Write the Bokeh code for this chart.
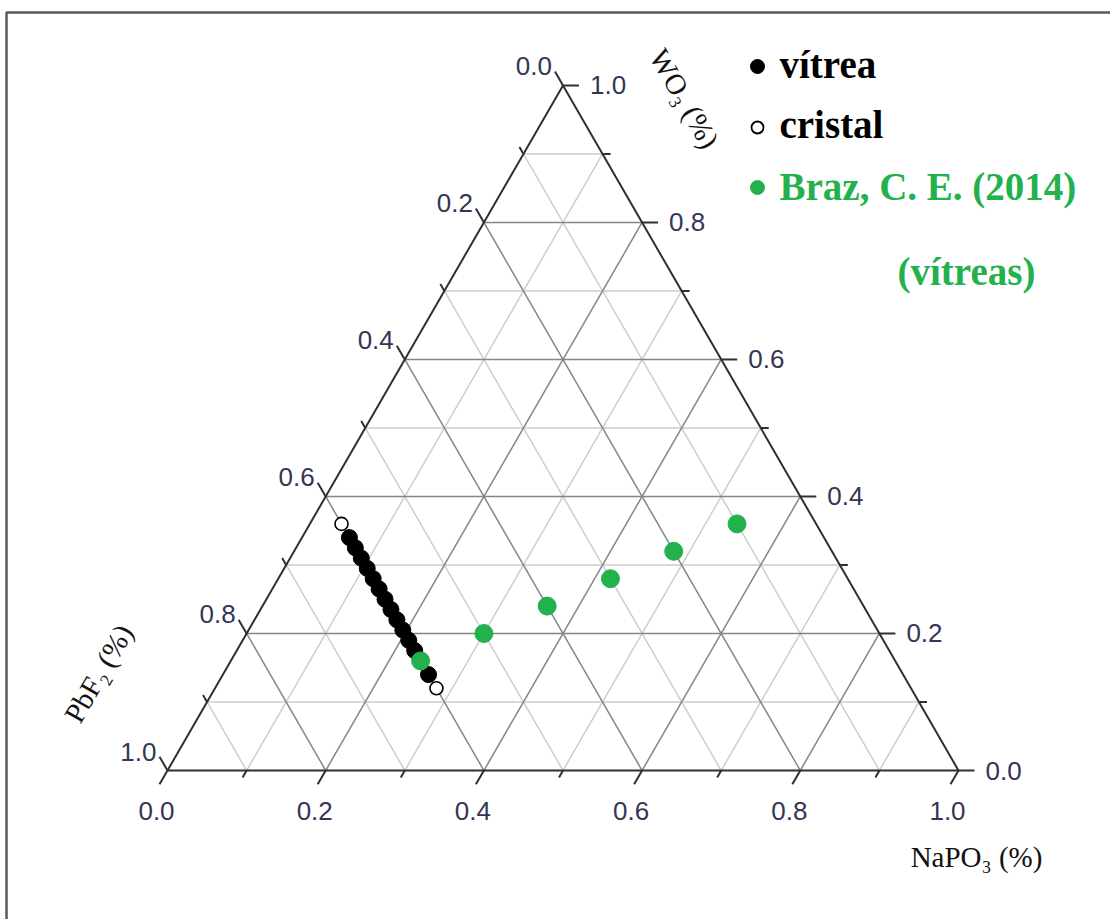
import math
from bokeh.plotting import figure
from bokeh.models import Range1d
from bokeh.core.properties import value
from bokeh.embed import file_html
from bokeh.resources import INLINE

# ---- composition data (mole fractions) ----
vitrea_pbf2 = [0.60] * 14
vitrea_napo3 = [0.060, 0.075, 0.090, 0.105, 0.120, 0.135, 0.150,
                0.165, 0.180, 0.195, 0.210, 0.225, 0.240, 0.260]
vitrea_wo3 = [0.340, 0.325, 0.310, 0.295, 0.280, 0.265, 0.250,
              0.235, 0.220, 0.205, 0.190, 0.175, 0.160, 0.140]

cristal_pbf2 = [0.60, 0.60]
cristal_napo3 = [0.04, 0.28]
cristal_wo3 = [0.36, 0.12]

braz_pbf2 = [0.60, 0.50, 0.40, 0.30, 0.20, 0.10]
braz_napo3 = [0.24, 0.30, 0.36, 0.42, 0.48, 0.54]
braz_wo3 = [0.16, 0.20, 0.24, 0.28, 0.32, 0.36]

tick_values = [0.0, 0.2, 0.4, 0.6, 0.8, 1.0]
tick_labels = ["0.0", "0.2", "0.4", "0.6", "0.8", "1.0"]
minor_values = [0.1, 0.3, 0.5, 0.7, 0.9]

legend_labels = ["vítrea", "cristal", "Braz, C. E. (2014)"]
legend_note = "(vítreas)"

# ---- page geometry ----
W, H = 1110, 919
S = 791.0          # pixels per unit triangle side
X0, Y0 = 167, 770  # pixel position of the PbF2 corner
H3 = math.sqrt(3) / 2


def px(d):
    return d / S


def tern(a, b, c):
    """(PbF2, NaPO3, WO3) -> cartesian."""
    xs, ys = [], []
    for ai, bi, ci in zip(a, b, c):
        t = ai + bi + ci
        bi, ci = bi / t, ci / t
        xs.append(bi + ci / 2)
        ys.append(ci * H3)
    return xs, ys


def sx(pix_x):
    return (pix_x - X0) / S


def sy(pix_y):
    return (Y0 - pix_y) / S


p = figure(width=W, height=H, output_backend="svg", toolbar_location=None,
           x_range=Range1d(-X0 / S, (W - X0) / S),
           y_range=Range1d(-(H - Y0) / S, Y0 / S),
           x_axis_type=None, y_axis_type=None, min_border=0)
p.grid.visible = False
p.outline_line_color = None
p.background_fill_color = "white"
p.border_fill_color = "white"

# outer frame
p.line([sx(6), sx(6), sx(1120)], [sy(930), sy(12), sy(12)],
       line_color="#5a5a5a", line_width=2.5)

# ---- grid lines ----
def grid_lines(vals):
    x0, y0, x1, y1 = [], [], [], []
    for v in vals:
        # constant WO3 (horizontal)
        x0.append(v / 2); y0.append(v * H3); x1.append(1 - v / 2); y1.append(v * H3)
        # constant PbF2 (parallel to right edge)
        x0.append(1 - v); y0.append(0); x1.append((1 - v) / 2); y1.append((1 - v) * H3)
        # constant NaPO3 (parallel to left edge)
        x0.append(v); y0.append(0); x1.append(v + (1 - v) / 2); y1.append((1 - v) * H3)
    return x0, y0, x1, y1


mx0, my0, mx1, my1 = grid_lines(minor_values)
p.segment(mx0, my0, mx1, my1, line_color="#cdcdcd", line_width=1.5)
Mx0, My0, Mx1, My1 = grid_lines(tick_values[1:-1])
p.segment(Mx0, My0, Mx1, My1, line_color="#858585", line_width=1.5)

# triangle edges
p.line([0, 1, 0.5, 0], [0, 0, H3, 0], line_color="#303030", line_width=2)

# ---- ticks ----
def ticks(vals, length):
    x0, y0, x1, y1 = [], [], [], []
    L = px(length)
    for v in vals:
        # bottom (NaPO3): down-left
        x0.append(v); y0.append(0); x1.append(v - 0.5 * L); y1.append(-H3 * L)
        # right (WO3): to the right
        rx, ry = 1 - v / 2, v * H3
        x0.append(rx); y0.append(ry); x1.append(rx + L); y1.append(ry)
        # left (PbF2): up-left
        lx, ly = (1 - v) / 2, (1 - v) * H3
        x0.append(lx); y0.append(ly); x1.append(lx - 0.5 * L); y1.append(ly + H3 * L)
    return x0, y0, x1, y1


t0 = ticks(tick_values, 16)
p.segment(*t0, line_color="#303030", line_width=2)
t1 = ticks(minor_values, 8)
p.segment(*t1, line_color="#303030", line_width=2)

label_color = "#353555"
label_font = value("Liberation Sans")
fs = "26px"

# bottom labels
p.text(x=[v - px(11) for v in tick_values], y=[-px(40)] * len(tick_values),
       text=tick_labels, text_font=label_font, text_font_size=fs,
       text_color=label_color, text_align="center", text_baseline="middle")
# right labels
p.text(x=[1 - v / 2 + px(27) for v in tick_values], y=[v * H3 for v in tick_values],
       text=tick_labels, text_font=label_font, text_font_size=fs,
       text_color=label_color, text_align="left", text_baseline="middle")
# left labels
p.text(x=[(1 - v) / 2 - px(11) for v in tick_values],
       y=[(1 - v) * H3 + px(19) for v in tick_values],
       text=tick_labels, text_font=label_font, text_font_size=fs,
       text_color=label_color, text_align="right", text_baseline="middle")

# axis titles
title_font = value("Liberation Serif")
p.text(x=[sx(976)], y=[sy(856)], text=["NaPO₃ (%)"], text_font=title_font,
       text_font_size="29px", text_color="#111111", text_align="center",
       text_baseline="middle")
p.text(x=[sx(684)], y=[sy(98)], text=["WO₃ (%)"], text_font=title_font,
       text_font_size="29px", text_color="#111111", text_align="center",
       text_baseline="middle", angle=-math.pi / 3)
p.text(x=[sx(98)], y=[sy(673)], text=["PbF₂ (%)"], text_font=title_font,
       text_font_size="29px", text_color="#111111", text_align="center",
       text_baseline="middle", angle=math.pi / 3)

# ---- data ----
GREEN = "#22b14c"
vx, vy = tern(vitrea_pbf2, vitrea_napo3, vitrea_wo3)
p.scatter(vx, vy, marker="circle", size=16, fill_color="black", line_color="black")
cx, cy = tern(cristal_pbf2, cristal_napo3, cristal_wo3)
p.scatter(cx, cy, marker="circle", size=13, fill_color="white", line_color="black",
          line_width=1.6)
bx, by = tern(braz_pbf2, braz_napo3, braz_wo3)
p.scatter(bx, by, marker="circle", size=18, fill_color=GREEN, line_color=GREEN)

# ---- legend ----
leg_y = [sy(66), sy(127), sy(187)]
leg_x = sx(757)
p.scatter([leg_x], [leg_y[0]], marker="circle", size=14, fill_color="black",
          line_color="black")
p.scatter([leg_x], [leg_y[1]], marker="circle", size=12, fill_color="white",
          line_color="black", line_width=1.8)
p.scatter([leg_x], [leg_y[2]], marker="circle", size=14, fill_color=GREEN,
          line_color=GREEN)
p.text(x=[sx(779)] * 3, y=[sy(64), sy(124), sy(186)], text=legend_labels,
       text_font=title_font, text_font_style="bold", text_font_size="39px",
       text_color=["black", "black", GREEN], text_align="left",
       text_baseline="middle")
p.text(x=[sx(897)], y=[sy(271)], text=[legend_note], text_font=title_font,
       text_font_style="bold", text_font_size="39px", text_color=GREEN,
       text_align="left", text_baseline="middle")

open("out.html", "w").write(file_html(p, INLINE))
